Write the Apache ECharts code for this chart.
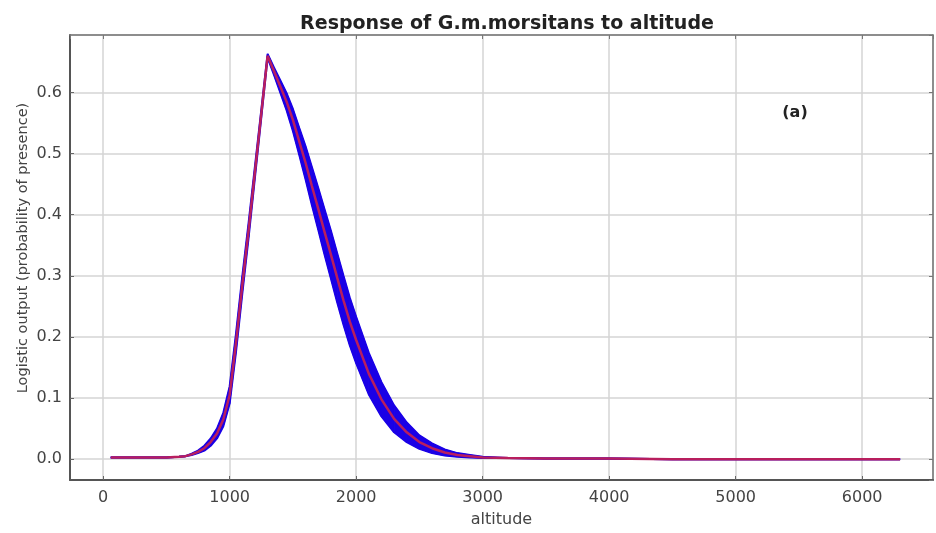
<!DOCTYPE html>
<html>
<head>
<meta charset="utf-8">
<style>
  html, body { margin: 0; padding: 0; background: #fff; }
  #chart { width: 936px; height: 533px; }
</style>
<script src="https://cdn.jsdelivr.net/npm/echarts@6/dist/echarts.min.js"></script>
</head>
<body>
<div id="chart"></div>
<script>
// ---- data ----
const altitude = [60, 200, 400, 500, 600, 650, 700, 750, 800, 850, 900, 950, 1000, 1050, 1100, 1150, 1200, 1250, 1300,
  1350, 1400, 1450, 1500, 1550, 1600, 1650, 1700, 1750, 1800, 1850, 1900, 1950, 2000, 2100, 2200, 2300, 2400, 2500,
  2600, 2700, 2800, 2900, 3000, 3200, 3500, 4000, 4500, 5000, 5500, 6000, 6300];

// mean response (red)
const meanResp = [0.003, 0.003, 0.003, 0.003, 0.004, 0.005, 0.008, 0.012, 0.018, 0.028, 0.042, 0.065, 0.105, 0.19, 0.285,
  0.375, 0.47, 0.565, 0.66, 0.635, 0.61, 0.585, 0.555, 0.52, 0.485, 0.447, 0.41, 0.372, 0.335, 0.297, 0.26, 0.225,
  0.195, 0.14, 0.098, 0.066, 0.044, 0.028, 0.018, 0.011, 0.007, 0.005, 0.003, 0.002, 0.001, 0.001, 0, 0, 0, 0, 0];

// mean - sd / mean + sd (blue band)
const lowerResp = [0.003, 0.003, 0.003, 0.003, 0.004, 0.005, 0.007, 0.010, 0.014, 0.022, 0.034, 0.054, 0.091, 0.175, 0.271,
  0.363, 0.461, 0.559, 0.657, 0.629, 0.600, 0.571, 0.537, 0.498, 0.458, 0.416, 0.376, 0.335, 0.296, 0.257, 0.220, 0.186,
  0.157, 0.106, 0.070, 0.044, 0.028, 0.017, 0.010, 0.006, 0.004, 0.003, 0.002, 0.002, 0.001, 0.001, 0, 0, 0, 0, 0];
const upperResp = [0.003, 0.003, 0.003, 0.003, 0.004, 0.005, 0.009, 0.014, 0.022, 0.034, 0.050, 0.076, 0.119, 0.205, 0.299,
  0.387, 0.479, 0.571, 0.663, 0.641, 0.620, 0.599, 0.573, 0.542, 0.512, 0.478, 0.444, 0.409, 0.374, 0.337, 0.300, 0.264,
  0.233, 0.174, 0.126, 0.088, 0.060, 0.039, 0.026, 0.016, 0.010, 0.007, 0.004, 0.002, 0.001, 0.001, 0, 0, 0, 0, 0];

const titleText = 'Response of G.m.morsitans to altitude';
const xName = 'altitude';
const yName = 'Logistic output (probability of presence)';
const panelTag = '(a)';

// ---- chart ----
const chart = echarts.init(document.getElementById('chart'));

const pairs = arr => altitude.map((x, i) => [x, arr[i]]);

// one quad per step between two altitudes: [x0, lo0, hi0, x1, lo1, hi1]
const bandSegments = altitude.slice(0, -1).map((x, i) =>
  [x, lowerResp[i], upperResp[i], altitude[i + 1], lowerResp[i + 1], upperResp[i + 1]]);

const bandColor = '#1a00e6';
const gridLine = { show: true, lineStyle: { color: '#d4d4d4', width: 1.5 } };
const tickLabel = { color: '#444', fontSize: 16, fontFamily: 'DejaVu Sans' };

function renderBand(params, api) {
  const p1 = api.coord([api.value(0), api.value(1)]);
  const p2 = api.coord([api.value(3), api.value(4)]);
  const p3 = api.coord([api.value(3), api.value(5)]);
  const p4 = api.coord([api.value(0), api.value(2)]);
  return {
    type: 'polygon',
    shape: { points: [p1, p2, p3, p4] },
    style: { fill: bandColor, stroke: bandColor, lineWidth: 1 }
  };
}

// frame axes on top / right, no labels
const frameX = {
  type: 'value', position: 'top', min: -262, max: 6560, minInterval: 1000, maxInterval: 1000,
  axisLine: { show: true, onZero: false, lineStyle: { color: '#777', width: 1.5 } },
  axisTick: { show: true, inside: true, length: 4, lineStyle: { color: '#777' } },
  axisLabel: { show: false },
  splitLine: { show: false }
};
const frameY = {
  type: 'value', position: 'right', min: -0.034, max: 0.694, minInterval: 0.1, maxInterval: 0.1,
  axisLine: { show: true, onZero: false, lineStyle: { color: '#777', width: 1.5 } },
  axisTick: { show: true, inside: true, length: 4, lineStyle: { color: '#777' } },
  axisLabel: { show: false },
  splitLine: { show: false }
};

chart.setOption({
  animation: false,
  title: {
    text: titleText,
    left: 502,
    top: 10,
    textAlign: 'center',
    textStyle: { fontFamily: 'DejaVu Sans', fontWeight: 'bold', fontSize: 19, color: '#222' }
  },
  grid: { left: 70, right: 3, top: 35, bottom: 49, show: true, borderColor: '#888', borderWidth: 1 },
  xAxis: [{
    type: 'value',
    min: -262,
    max: 6560,
    minInterval: 1000,
    maxInterval: 1000,
    name: xName,
    nameLocation: 'middle',
    nameGap: 32,
    nameTextStyle: { color: '#444', fontSize: 16, fontFamily: 'DejaVu Sans' },
    axisLine: { show: true, onZero: false, lineStyle: { color: '#555', width: 2 } },
    axisTick: { show: true, inside: true, length: 4, lineStyle: { color: '#666' } },
    axisLabel: Object.assign({
      margin: 10, showMinLabel: false, showMaxLabel: false,
      formatter: v => String(v)
    }, tickLabel),
    splitLine: gridLine
  }, frameX],
  yAxis: [{
    type: 'value',
    min: -0.034,
    max: 0.694,
    minInterval: 0.1,
    maxInterval: 0.1,
    axisLine: { show: true, onZero: false, lineStyle: { color: '#555', width: 2 } },
    axisTick: { show: true, inside: true, length: 4, lineStyle: { color: '#666' } },
    axisLabel: Object.assign({
      margin: 8, showMinLabel: false, showMaxLabel: false,
      formatter: v => v.toFixed(1)
    }, tickLabel),
    splitLine: gridLine
  }, frameY],
  graphic: [{
    type: 'text',
    x: 23,
    y: 248,
    rotation: Math.PI / 2,
    style: {
      text: yName,
      fill: '#444',
      font: '14.5px "DejaVu Sans"',
      textAlign: 'center',
      textVerticalAlign: 'middle'
    }
  }, {
    type: 'text',
    x: 795,
    y: 113,
    style: {
      text: panelTag,
      fill: '#222',
      font: 'bold 16px "DejaVu Sans"',
      textAlign: 'center',
      textVerticalAlign: 'middle'
    }
  }],
  series: [
    {
      name: 'sd band',
      type: 'custom',
      renderItem: renderBand,
      data: bandSegments,
      encode: { x: [0, 3], y: [1, 2, 4, 5] },
      z: 2
    },
    {
      name: 'lower',
      type: 'line',
      data: pairs(lowerResp),
      showSymbol: false,
      lineStyle: { color: bandColor, width: 2 },
      z: 3
    },
    {
      name: 'upper',
      type: 'line',
      data: pairs(upperResp),
      showSymbol: false,
      lineStyle: { color: bandColor, width: 2 },
      z: 3
    },
    {
      name: 'mean',
      type: 'line',
      data: pairs(meanResp),
      showSymbol: false,
      lineStyle: { color: '#b81e5e', width: 2.5 },
      z: 4
    }
  ]
});
</script>
</body>
</html>
